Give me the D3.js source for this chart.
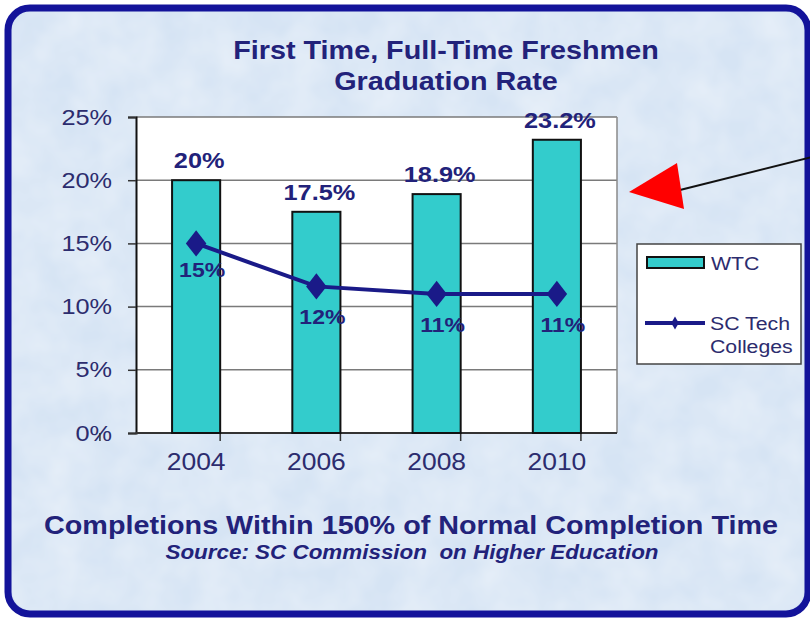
<!DOCTYPE html>
<html>
<head>
<meta charset="utf-8">
<script src="https://cdn.jsdelivr.net/npm/d3@7"></script>
<style>
  body { margin: 0; background: #fff; }
  text { font-family: "Liberation Sans", Arial, sans-serif; }
</style>
</head>
<body>
<div id="chart"></div>
<script>
const years = ['2004', '2006', '2008', '2010'];
const wtcValues = [20, 17.5, 18.9, 23.2];
const scTechValues = [15, 11.6, 11, 11];
const yTicks = [0, 5, 10, 15, 20, 25];
const seriesNames = ['WTC', 'SC Tech', 'Colleges'];

const width = 810;
const height = 619;
const navy = '#22227a';
const wide = 1.15; // the source picture is a bit wider than tall

// move x/y into a transform so the glyphs can be widened
function stretch(sel) {
  sel.each(function() {
    const t = d3.select(this);
    const tx = +t.attr('x') || 0;
    const ty = +t.attr('y') || 0;
    t.attr('x', 0).attr('y', 0)
     .attr('transform', `translate(${tx},${ty}) scale(${wide},1)`);
  });
}

const svg = d3.select('#chart')
    .append('svg')
    .attr('width', width)
    .attr('height', height);

// light textured backdrop
const defs = svg.append('defs');
const filt = defs.append('filter').attr('id', 'tex').attr('x', 0).attr('y', 0).attr('width', 1).attr('height', 1);
filt.append('feTurbulence').attr('type', 'fractalNoise').attr('baseFrequency', 0.025).attr('numOctaves', 3).attr('seed', 4);
filt.append('feColorMatrix').attr('type', 'matrix')
    .attr('values', '0 0 0 0 1  0 0 0 0 1  0 0 0 0 1  0 0 0 0.55 -0.12');
filt.append('feComposite').attr('in2', 'SourceGraphic').attr('operator', 'in');

svg.append('rect')
    .attr('x', 8).attr('y', 8)
    .attr('width', 800).attr('height', 606)
    .attr('rx', 22)
    .attr('fill', '#d6e4f4')
    .attr('stroke', '#13139a')
    .attr('stroke-width', 7);
svg.append('rect')
    .attr('x', 12).attr('y', 12)
    .attr('width', 792).attr('height', 598)
    .attr('rx', 20)
    .attr('fill', '#fff')
    .attr('filter', 'url(#tex)');

const margin = {left: 136, right: 193, top: 117, bottom: 186};
const plotW = width - margin.left - margin.right;
const plotH = height - margin.top - margin.bottom;

const g = svg.append('g')
    .attr('transform', `translate(${margin.left},${margin.top})`);

const x = d3.scaleBand()
    .domain(years)
    .range([0, plotW])
    .paddingInner(0.6)
    .paddingOuter(0.3);

const y = d3.scaleLinear()
    .domain([0, 25])
    .range([plotH, 0]);

// plot background
g.append('rect')
    .attr('width', plotW)
    .attr('height', plotH)
    .attr('fill', '#fff');

// gridlines
g.selectAll('.grid')
    .data(yTicks.slice(1))
    .enter()
    .append('line')
    .attr('x1', 0).attr('x2', plotW)
    .attr('y1', d => y(d)).attr('y2', d => y(d))
    .attr('stroke', '#7a7a7a')
    .attr('stroke-width', 1.5);

g.append('line')
    .attr('x1', plotW).attr('x2', plotW)
    .attr('y1', 0).attr('y2', plotH)
    .attr('stroke', '#8a8a8a')
    .attr('stroke-width', 1.5);

// y axis
const yAxis = g.append('g')
    .call(d3.axisLeft(y).tickValues(yTicks).tickFormat(d => d + '%').tickSize(8).tickPadding(16));
yAxis.select('.domain').attr('stroke', '#111').attr('stroke-width', 2);
yAxis.selectAll('.tick line').attr('stroke', '#333').attr('stroke-width', 1.5);
yAxis.selectAll('text')
    .style('font-size', '22px')
    .attr('fill', '#2c2c6e')
    .attr('transform', `scale(${wide},1)`)
    .attr('x', -24 / wide);

// x axis with ticks between categories
const xAxisG = g.append('g')
    .attr('transform', `translate(0,${plotH})`);
xAxisG.append('line')
    .attr('x1', 0).attr('x2', plotW)
    .attr('stroke', '#333').attr('stroke-width', 2);
const step = x.step();
const bounds = d3.range(years.length + 1).map(i => x(years[0]) - x.paddingOuter() * step - x.paddingInner() * step / 2 + i * step);
xAxisG.selectAll('.xtick')
    .data(bounds)
    .enter()
    .append('line')
    .attr('x1', d => d).attr('x2', d => d)
    .attr('y1', 0).attr('y2', 8)
    .attr('stroke', '#333')
    .attr('stroke-width', 1.5);
xAxisG.selectAll('.xlab')
    .data(years)
    .enter()
    .append('text')
    .attr('x', d => x(d) + x.bandwidth() / 2)
    .attr('y', 37)
    .attr('text-anchor', 'middle')
    .style('font-size', '23px')
    .attr('fill', '#2c2c6e')
    .text(d => d)
    .call(stretch);

// bars
g.selectAll('.bar')
    .data(wtcValues)
    .enter()
    .append('rect')
    .attr('x', (d, i) => x(years[i]))
    .attr('y', d => y(d))
    .attr('width', x.bandwidth())
    .attr('height', d => plotH - y(d))
    .attr('fill', '#33cccc')
    .attr('stroke', '#111')
    .attr('stroke-width', 2);

g.selectAll('.barlab')
    .data(wtcValues)
    .enter()
    .append('text')
    .attr('x', (d, i) => x(years[i]) + x.bandwidth() / 2 + 3)
    .attr('y', d => y(d) - 12)
    .attr('text-anchor', 'middle')
    .style('font-size', '22px')
    .style('font-weight', 'bold')
    .attr('fill', navy)
    .text(d => d + '%')
    .call(stretch);

// SC Tech line
const line = d3.line()
    .x((d, i) => x(years[i]) + x.bandwidth() / 2)
    .y(d => y(d));

g.append('path')
    .datum(scTechValues)
    .attr('d', line)
    .attr('fill', 'none')
    .attr('stroke', '#1a1a88')
    .attr('stroke-width', 4);

const diamond = d3.symbol().type(d3.symbolDiamond).size(200);
g.selectAll('.pt')
    .data(scTechValues)
    .enter()
    .append('path')
    .attr('d', diamond)
    .attr('transform', (d, i) => `translate(${x(years[i]) + x.bandwidth() / 2},${y(d)}) scale(1.35,1)`)
    .attr('fill', '#1a1a88');

g.selectAll('.ptlab')
    .data(scTechValues)
    .enter()
    .append('text')
    .attr('x', (d, i) => x(years[i]) + x.bandwidth() / 2 + 6)
    .attr('y', (d, i) => y(d) + (i === 0 ? 34 : 38))
    .attr('text-anchor', 'middle')
    .style('font-size', '20px')
    .style('font-weight', 'bold')
    .attr('fill', navy)
    .text(d => Math.round(d) + '%')
    .call(stretch);

// titles
svg.append('text')
    .attr('x', 446).attr('y', 59)
    .attr('text-anchor', 'middle')
    .style('font-size', '25px')
    .style('font-weight', 'bold')
    .attr('fill', navy)
    .text('First Time, Full-Time Freshmen')
    .call(stretch);
svg.append('text')
    .attr('x', 446).attr('y', 90)
    .attr('text-anchor', 'middle')
    .style('font-size', '25px')
    .style('font-weight', 'bold')
    .attr('fill', navy)
    .text('Graduation Rate')
    .call(stretch);

svg.append('text')
    .attr('x', 411).attr('y', 534)
    .attr('text-anchor', 'middle')
    .style('font-size', '25px')
    .style('font-weight', 'bold')
    .attr('fill', navy)
    .text('Completions Within 150% of Normal Completion Time')
    .call(stretch);

svg.append('text')
    .attr('x', 412).attr('y', 559)
    .attr('text-anchor', 'middle')
    .style('font-size', '19.5px')
    .style('font-weight', 'bold')
    .style('font-style', 'italic')
    .style('white-space', 'pre')
    .attr('fill', navy)
    .text('Source: SC Commission  on Higher Education')
    .call(stretch);

// legend
const legend = svg.append('g').attr('transform', 'translate(637,244)');
legend.append('rect')
    .attr('width', 164).attr('height', 120)
    .attr('fill', '#fff')
    .attr('stroke', '#444')
    .attr('stroke-width', 1.5);
legend.append('rect')
    .attr('x', 10).attr('y', 13)
    .attr('width', 57).attr('height', 11)
    .attr('fill', '#33cccc')
    .attr('stroke', '#111')
    .attr('stroke-width', 2);
legend.append('line')
    .attr('x1', 8).attr('x2', 68)
    .attr('y1', 79).attr('y2', 79)
    .attr('stroke', '#1a1a88')
    .attr('stroke-width', 4);
legend.append('path')
    .attr('d', d3.symbol().type(d3.symbolDiamond).size(50))
    .attr('transform', 'translate(38,79)')
    .attr('fill', '#1a1a88');
legend.selectAll('.ltext')
    .data([[74, 26], [73, 86], [73, 109]])
    .enter()
    .append('text')
    .attr('x', d => d[0]).attr('y', d => d[1])
    .style('font-size', '18.5px')
    .attr('fill', '#2c2c6e')
    .text((d, i) => seriesNames[i])
    .call(stretch);

// red pointer annotation
const ann = svg.append('g');
ann.append('line')
    .attr('x1', 680).attr('y1', 190)
    .attr('x2', 812).attr('y2', 157)
    .attr('stroke', '#111')
    .attr('stroke-width', 2);
ann.append('path')
    .attr('d', 'M629,192 L677,163 L684,209 Z')
    .attr('fill', '#ff0000');
</script>
</body>
</html>
